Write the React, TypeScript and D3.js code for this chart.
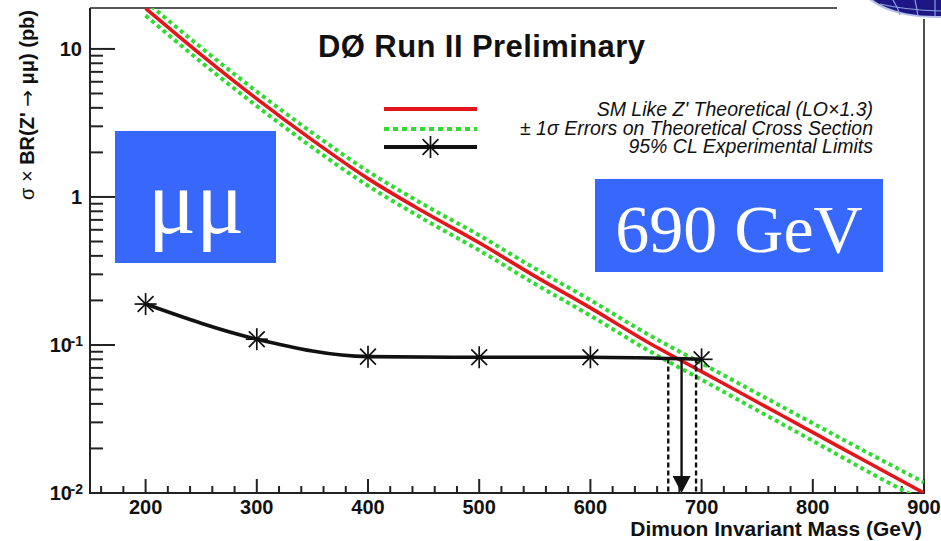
import React from 'react';
import * as d3 from 'd3';

// Theoretical Z' -> mumu cross section (LO x 1.3), pb, vs dimuon mass (GeV)
const theoryMass = [200, 250, 300, 350, 400, 450, 500, 550, 600, 650, 700, 750, 800, 850, 900];
const theorySigma = [18.8, 9.12, 4.6, 2.42, 1.33, 0.794, 0.49, 0.292, 0.178, 0.106, 0.0661, 0.0412, 0.0257, 0.016, 0.01];
// +/- 1 sigma band on the theoretical cross section
const theoryUpper = [21.0, 10.2, 5.15, 2.71, 1.49, 0.89, 0.551, 0.329, 0.201, 0.12, 0.0752, 0.0471, 0.0296, 0.0186, 0.0118];
const theoryLower = [16.8, 8.15, 4.11, 2.16, 1.19, 0.708, 0.436, 0.259, 0.158, 0.0937, 0.0583, 0.0362, 0.0225, 0.0139, 0.0088];

// 95% CL experimental limits
const limitMass = [200, 300, 400, 500, 600, 700];
const limitSigma = [0.189, 0.1094, 0.0834, 0.0826, 0.0826, 0.08];

// Mass limit arrow and its band
const massLimit = 682;
const massLimitBand = [670, 695];
const massLimitSigma = 0.081;

const xTicks = [200, 300, 400, 500, 600, 700, 800, 900];
const yTicks = [0.01, 0.1, 1, 10];
const yTickBase = ['10', '10', '1', '10'];
const yTickExp = ['-2', '-1', '', ''];

const legendLabels = [
  "SM Like Z' Theoretical (LO\u00d71.3)",
  '\u00b1 1\u03c3 Errors on Theoretical Cross Section',
  '95% CL Experimental Limits',
];

const W = 941;
const H = 541;
const L = 90, R = 924, T = 8, B = 493;

const x = d3.scaleLinear().domain([150, 900]).range([L, R]);
const y = d3.scaleLog().domain([0.01, 18.9]).range([B, T]);

const RED = '#e3161b';
const GREEN = '#2fdc2f';
const BLUE = '#3767fb';
const SANS = '"Liberation Sans", Arial, Helvetica, sans-serif';
const SERIF = '"Liberation Serif", "Times New Roman", serif';

function Star({ cx, cy, r = 11 }: { cx: number; cy: number; r?: number }) {
  const d = r * 0.72;
  return (
    <g stroke="#111" strokeWidth={1.7} strokeLinecap="butt">
      <line x1={cx} y1={cy - r} x2={cx} y2={cy + r} />
      <line x1={cx - r} y1={cy} x2={cx + r} y2={cy} />
      <line x1={cx - d} y1={cy - d} x2={cx + d} y2={cy + d} />
      <line x1={cx - d} y1={cy + d} x2={cx + d} y2={cy - d} />
    </g>
  );
}

export default function App() {
  const curve = d3
    .line<[number, number]>()
    .x((d) => x(d[0]))
    .y((d) => y(d[1]))
    .curve(d3.curveMonotoneX);

  const pts = (xs: number[], ys: number[]) => xs.map((m, i) => [m, ys[i]] as [number, number]);

  const yMinor: number[] = [];
  [0.01, 0.1, 1, 10].forEach((dec) => {
    for (let k = 2; k <= 9; k++) {
      const v = dec * k;
      if (v <= y.domain()[1]) yMinor.push(v);
    }
  });
  const xMinor = d3.range(160, 900, 20).filter((v) => v % 100 !== 0);

  const legendX1 = 384, legendX2 = 477;
  const legendRows = [109, 129, 147];

  return (
    <svg
      width={W}
      height={H}
      viewBox={`0 0 ${W} ${H}`}
      style={{ position: 'absolute', left: 0, top: 0, display: 'block', background: '#fff' }}
    >
      <defs>
        <clipPath id="plotArea">
          <rect x={L} y={T} width={R - L} height={B - T} />
        </clipPath>
      </defs>
      <rect x={0} y={0} width={W} height={H} fill="#fff" />

      {/* frame */}
      <g stroke="#222" fill="none">
        <line x1={L} y1={T} x2={837} y2={T} strokeWidth={1.6} />
        <line x1={R} y1={19} x2={R} y2={B} strokeWidth={1.6} />
        <line x1={L} y1={T} x2={L} y2={B + 1} strokeWidth={2} />
        <line x1={L - 1} y1={B} x2={R + 1} y2={B} strokeWidth={2} />
      </g>

      {/* y ticks */}
      <g stroke="#222" strokeWidth={2}>
        {yTicks.map((v) => (
          <line key={'ym' + v} x1={L} x2={L + 25} y1={y(v)} y2={y(v)} />
        ))}
        {yMinor.map((v) => (
          <line key={'yn' + v} x1={L} x2={L + 13} y1={y(v)} y2={y(v)} />
        ))}
      </g>
      <g fontFamily={SANS} fontWeight="bold" fontSize={20} fill="#111" textAnchor="end">
        {yTicks.map((v, i) => (
          <text key={'yl' + v} x={yTickExp[i] ? 72 : 82} y={y(v) + 7}>
            {yTickBase[i]}
          </text>
        ))}
        {yTicks.map((v, i) =>
          yTickExp[i] ? (
            <text key={'ye' + v} x={83} y={y(v) + 1} fontSize={14}>
              {yTickExp[i]}
            </text>
          ) : null
        )}
      </g>

      {/* x ticks */}
      <g stroke="#222" strokeWidth={2}>
        {xTicks.map((v) => (
          <line key={'xm' + v} x1={x(v)} x2={x(v)} y1={B} y2={B - 14} />
        ))}
        {xMinor.map((v) => (
          <line key={'xn' + v} x1={x(v)} x2={x(v)} y1={B} y2={B - 7} />
        ))}
      </g>
      <g fontFamily={SANS} fontWeight="bold" fontSize={20} fill="#111" textAnchor="middle">
        {xTicks.map((v) => (
          <text key={'xl' + v} x={x(v)} y={514}>
            {v}
          </text>
        ))}
      </g>

      {/* axis titles */}
      <text x={922} y={536} fontFamily={SANS} fontWeight="bold" fontSize={21} textAnchor="end" fill="#111">
        Dimuon Invariant Mass (GeV)
      </text>
      <text
        transform="translate(34,10) rotate(-90)"
        fontFamily={SANS}
        fontWeight="bold"
        fontSize={20}
        textAnchor="end"
        fill="#111"
      >
        <tspan fontWeight="normal">{'\u03c3 \u00d7 '}</tspan>
        <tspan>{"BR(Z' "}</tspan>
        <tspan fontFamily='"DejaVu Sans", sans-serif' fontWeight="normal">{'\u2192'}</tspan>
        <tspan>{' \u03bc\u03bc) (pb)'}</tspan>
      </text>

      {/* title */}
      <text x={318} y={57} fontFamily={SANS} fontWeight="bold" fontSize={31} fill="#111" textLength={327} lengthAdjust="spacing">
        {'D\u00d8 Run II Preliminary'}
      </text>

      {/* theory curves */}
      <g clipPath="url(#plotArea)" fill="none">
        <path d={curve(pts(theoryMass, theoryUpper)) || ''} stroke={GREEN} strokeWidth={4} strokeDasharray="4 3.5" />
        <path d={curve(pts(theoryMass, theoryLower)) || ''} stroke={GREEN} strokeWidth={4} strokeDasharray="4 3.5" />
        <path d={curve(pts(theoryMass, theorySigma)) || ''} stroke={RED} strokeWidth={3.6} />
      </g>

      {/* experimental limit */}
      <path d={curve(pts(limitMass, limitSigma)) || ''} fill="none" stroke="#111" strokeWidth={3.6} />
      {limitMass.map((m, i) => (
        <Star key={'st' + m} cx={x(m)} cy={y(limitSigma[i])} />
      ))}

      {/* mass limit arrow */}
      <g stroke="#111" strokeWidth={2.4}>
        {massLimitBand.map((m) => (
          <line key={'band' + m} x1={x(m)} x2={x(m)} y1={y(massLimitSigma)} y2={B} strokeDasharray="5 3" />
        ))}
        <line x1={x(massLimit)} x2={x(massLimit)} y1={y(massLimitSigma)} y2={B - 14} />
      </g>
      <path
        d={`M${x(massLimit) - 9},${B - 17} L${x(massLimit) + 9},${B - 17} L${x(massLimit)},${B} Z`}
        fill="#111"
      />

      {/* legend */}
      <line x1={legendX1} x2={legendX2} y1={legendRows[0]} y2={legendRows[0]} stroke={RED} strokeWidth={4} />
      <line x1={legendX1} x2={legendX2} y1={legendRows[1]} y2={legendRows[1]} stroke={GREEN} strokeWidth={4} strokeDasharray="5 4" />
      <line x1={legendX1} x2={legendX2} y1={legendRows[2]} y2={legendRows[2]} stroke="#111" strokeWidth={4} />
      <Star cx={(legendX1 + legendX2) / 2} cy={legendRows[2]} />
      <g fontFamily={SANS} fontStyle="italic" fontSize={19.5} fill="#111" textAnchor="end">
        {legendLabels.map((s, i) => (
          <text key={'lg' + i} x={873} y={116 + i * 18.5}>
            {s}
          </text>
        ))}
      </g>

      {/* highlight boxes */}
      <rect x={115} y={131} width={161} height={132} fill={BLUE} />
      <text x={196} y={233} fontFamily={SERIF} fontSize={90} fill="#fff" textAnchor="middle">
        {'\u03bc\u03bc'}
      </text>
      <rect x={595} y={179} width={288} height={93} fill={BLUE} />
      <text x={739} y={252} fontFamily={SERIF} fontSize={68} fill="#fff" textAnchor="middle">
        690 GeV
      </text>

      {/* experiment logo corner */}
      <rect x={838} y={0} width={103} height={18} fill="#fff" />
      <g>
        <ellipse cx={935} cy={-18} rx={76} ry={36} fill="#b8c2e8" />
        <ellipse cx={935} cy={-18} rx={73} ry={34} fill="#1c1784" />
        <g stroke="#8f9fe0" strokeWidth={1.2} fill="none">
          <path d="M880,4 Q905,10 941,11" />
          <path d="M893,0 Q898,8 900,15" />
          <path d="M915,0 Q917,9 918,16" />
          <path d="M935,0 L935,16" />
        </g>
      </g>
    </svg>
  );
}
